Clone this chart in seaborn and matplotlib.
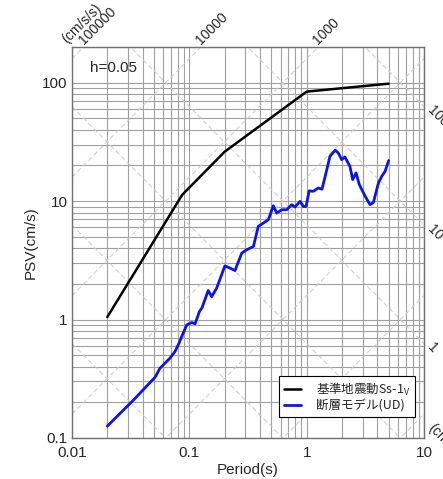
import numpy as np
import pandas as pd
import matplotlib
matplotlib.use('Agg')
import matplotlib.pyplot as plt
import seaborn as sns
from matplotlib.ticker import FixedLocator, LogLocator, NullFormatter
from matplotlib.font_manager import FontProperties

# Ss-1V design spectrum (period s, PSV cm/s)
ss_period = [0.02, 0.087, 0.2, 1.0, 5.0]
ss_psv = [1.05, 11.3, 26.1, 84.0, 98.0]

# fault model (UD) spectrum
fm_period = [0.02, 0.0334, 0.0511, 0.0562, 0.0684, 0.0755, 0.0817, 0.0861, 0.0951,
             0.105, 0.112, 0.122, 0.128, 0.145, 0.155, 0.171, 0.201, 0.222, 0.245,
             0.280, 0.308, 0.352, 0.387, 0.419, 0.472, 0.520, 0.556, 0.614, 0.676,
             0.746, 0.796, 0.879, 0.938, 0.989, 1.05, 1.14, 1.26, 1.35, 1.44, 1.58,
             1.75, 1.86, 1.99, 2.12, 2.34, 2.47, 2.64, 2.81, 3.15, 3.47, 3.71, 4.09,
             4.37, 4.66, 5.0]
fm_psv = [0.126, 0.209, 0.326, 0.388, 0.472, 0.537, 0.631, 0.718, 0.902,
          0.944, 0.921, 1.17, 1.25, 1.76, 1.56, 1.84, 2.84, 2.72, 2.59,
          3.64, 3.88, 4.14, 6.11, 6.44, 6.97, 9.14, 7.93, 8.45, 8.45,
          9.33, 8.91, 9.94, 9.01, 9.01, 12.2, 12.1, 12.9, 12.6, 16.2, 23.9,
          26.9, 25.5, 22.4, 23.6, 19.6, 15.2, 17.3, 13.8, 11.0, 9.33, 9.75, 14.2,
          16.2, 17.8, 22.0]

# tripartite guide lines
acc_levels = [0.1, 1, 10, 100, 1000, 10000, 100000]
acc_labels = ['1000', '10000', '100000']
disp_levels = [0.001, 0.01, 0.1, 1, 10, 100]
disp_labels = ['1', '10', '100']

x_ticks = [0.01, 0.1, 1, 10]
x_ticklabels = ['0.01', '0.1', '1', '10']
y_ticks = [0.1, 1, 10, 100]
y_ticklabels = ['0.1', '1', '10', '100']

sns.set_style('white')
plt.rcParams['font.family'] = ['Liberation Sans', 'Noto Sans CJK JP']

fig = plt.figure(figsize=(4.43, 4.79), dpi=100)
ax = fig.add_axes([0.1625, 0.0856, 0.7945, 0.8163])

xmin, xmax = 0.01, 10
ymin, ymax = 0.1, 200
ax.set_xscale('log')
ax.set_yscale('log')
ax.set_xlim(xmin, xmax)
ax.set_ylim(ymin, ymax)

# diagonal dashed lines (constant acceleration / displacement)
tt = np.logspace(-2, 1, 50)
for a in acc_levels:
    ax.plot(tt, a * tt / (2 * np.pi), color='#cccccc', lw=0.7, ls=(0, (5, 3)), zorder=1)
for d in disp_levels:
    ax.plot(tt, 2 * np.pi * d / tt, color='#cccccc', lw=0.7, ls=(0, (5, 3)), zorder=1)

ss_df = pd.DataFrame({'period': ss_period, 'psv': ss_psv})
fm_df = pd.DataFrame({'period': fm_period, 'psv': fm_psv})
sns.lineplot(data=ss_df, x='period', y='psv', color='black', lw=1.8, sort=False,
             estimator=None, label='基準地震動Ss-$\\mathregular{1_V}$', ax=ax, zorder=3)
sns.lineplot(data=fm_df, x='period', y='psv', color='#0a14f0', lw=2.0, sort=False,
             estimator=None, label='断層モデル(UD)', ax=ax, zorder=3)

ax.xaxis.set_major_locator(FixedLocator(x_ticks))
ax.set_xticklabels(x_ticklabels)
ax.yaxis.set_major_locator(FixedLocator(y_ticks))
ax.set_yticklabels(y_ticklabels)
ax.xaxis.set_minor_locator(LogLocator(base=10, subs=np.arange(2, 10)))
ax.yaxis.set_minor_locator(LogLocator(base=10, subs=np.arange(2, 10)))
ax.xaxis.set_minor_formatter(NullFormatter())
ax.yaxis.set_minor_formatter(NullFormatter())
ax.grid(which='both', color='#a0a0a0', lw=0.8, zorder=0)
ax.set_axisbelow(True)
ax.tick_params(which='both', length=0, labelsize=11)
ax.tick_params(axis='x', pad=6)
ax.tick_params(axis='y', pad=3)
for s in ax.spines.values():
    s.set_color('#707070')
    s.set_linewidth(1.0)

ax.set_xlabel('Period(s)', fontsize=11, labelpad=2)
ax.set_ylabel('PSV(cm/s)', fontsize=11, labelpad=3)

ax.text(0.05, 0.946, 'h=0.05', transform=ax.transAxes, fontsize=11, va='center', ha='left')

# acceleration labels along top
for lab in acc_labels:
    a = float(lab)
    t_top = 2 * np.pi * ymax / a
    ax.annotate(lab, xy=(t_top, ymax), xytext=(2, 0), textcoords='offset pixels',
                rotation=45, rotation_mode='anchor', ha='left', va='bottom',
                fontsize=10, annotation_clip=False)
ax.annotate('(cm/s/s)', xy=(2 * np.pi * ymax / 100000, ymax), xytext=(-15, 1),
            textcoords='offset pixels', rotation=45, rotation_mode='anchor',
            ha='left', va='bottom', fontsize=10, annotation_clip=False)

# displacement labels along right side
for lab in disp_labels:
    d = float(lab)
    ax.annotate(lab, xy=(xmax, 2 * np.pi * d / xmax), xytext=(6, -2), textcoords='offset pixels',
                rotation=-45, rotation_mode='anchor', ha='left', va='center',
                fontsize=10, annotation_clip=False)
ax.annotate('(cm)', xy=(xmax, 0.125), xytext=(6, 0), textcoords='offset pixels',
            rotation=-45, rotation_mode='anchor', ha='left', va='center',
            fontsize=10, annotation_clip=False)

leg = ax.legend(loc='lower right', bbox_to_anchor=(0.974, 0.054), frameon=True,
                fancybox=False, edgecolor='black', framealpha=1,
                prop=FontProperties(family='Noto Sans CJK JP', size=9),
                handlelength=1.4, borderpad=0.35, labelspacing=0.15, handletextpad=1.2,
                borderaxespad=0)
leg.get_frame().set_linewidth(0.8)

fig.savefig('out.png', dpi=100)
